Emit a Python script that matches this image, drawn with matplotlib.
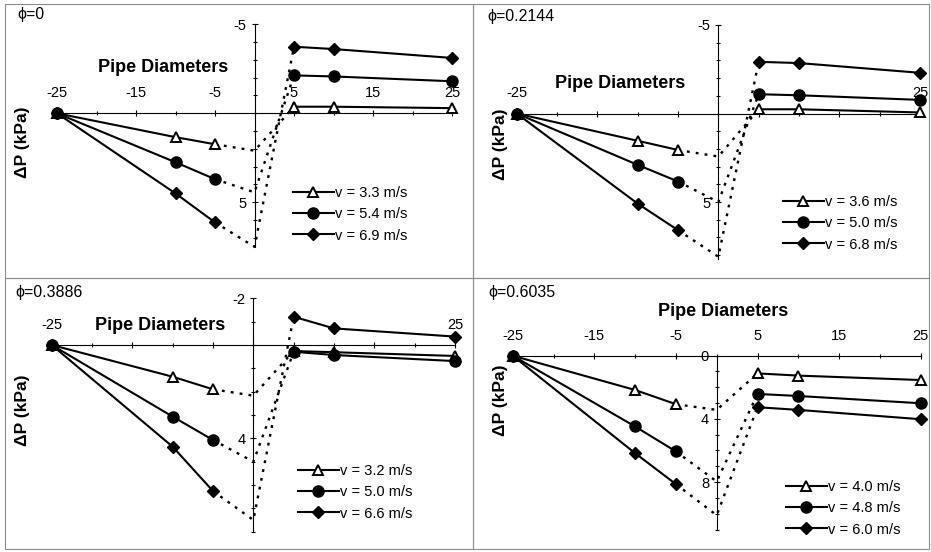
import matplotlib
matplotlib.use("Agg")
import matplotlib.pyplot as plt
from matplotlib.lines import Line2D
from matplotlib.patches import Rectangle
from matplotlib.ticker import MultipleLocator

plt.rcParams['font.family'] = ['Liberation Sans', 'DejaVu Sans']
plt.rcParams['axes.unicode_minus'] = False

# distancias en diametros de tubo
X = [-25, -10, -5, 0, 5, 10, 25]

PHI = ["0", "0.2144", "0.3886", "0.6035"]

VEL_1 = ["v = 3.3 m/s", "v = 5.4 m/s", "v = 6.9 m/s"]
VEL_2 = ["v = 3.6 m/s", "v = 5.0 m/s", "v = 6.8 m/s"]
VEL_3 = ["v = 3.2 m/s", "v = 5.0 m/s", "v = 6.6 m/s"]
VEL_4 = ["v = 4.0 m/s", "v = 4.8 m/s", "v = 6.0 m/s"]

# caida de presion (kPa), una lista por velocidad
DP_1 = [[0, 1.34, 1.74, 2.10, -0.37, -0.37, -0.29],
        [0, 2.75, 3.70, 4.44, -2.13, -2.07, -1.80],
        [0, 4.50, 6.13, 7.50, -3.74, -3.61, -3.11]]
DP_2 = [[0, 1.54, 2.06, 2.43, -0.24, -0.24, -0.06],
        [0, 2.90, 3.84, 5.00, -1.09, -1.03, -0.77],
        [0, 5.09, 6.59, 8.09, -2.92, -2.85, -2.30]]
DP_3 = [[0, 1.36, 1.90, 2.17, 0.26, 0.31, 0.47],
        [0, 3.07, 4.07, 5.00, 0.29, 0.43, 0.69],
        [0, 4.36, 6.26, 7.50, -1.21, -0.71, -0.36]]
DP_4 = [[0, 2.17, 3.07, 3.43, 1.12, 1.26, 1.54],
        [0, 4.48, 6.06, 7.96, 2.42, 2.55, 3.01],
        [0, 6.17, 8.13, 10.10, 3.26, 3.43, 4.02]]

XTICKS = [-25, -15, -5, 5, 15, 25]
XLABELS_ALL = ["-25", "-15", "-5", "5", "15", "25"]
XLABELS_ENDS = ["-25", "", "", "", "", "25"]

W, H = 931, 552
fig = plt.figure(figsize=(W / 100, H / 100), dpi=100)

MARKERS = [dict(marker="^", mfc="white", mec="black", ms=7.5, mew=1.4),
           dict(marker="o", mfc="black", mec="black", ms=8),
           dict(marker="D", mfc="black", mec="black", ms=6.5)]

# (izq, der, arriba, abajo) en pixeles, ylim, yticks, etiquetas x, leyenda, textos
PANELES = [
    dict(box=(57, 452, 24.3, 246.8), ylim=(7.5, -5), yt=[-5, 5], xl=XLABELS_ALL,
         dp=DP_1, vel=VEL_1, phi=PHI[0], phi_xy=(17, 15), pd_xy=(163, 68),
         dpl_xy=(23, 142), leg_xy=(293, 186)),
    dict(box=(516.7, 920, 25, 258.7), ylim=(8.2, -5), yt=[-5, 5], xl=XLABELS_ENDS,
         dp=DP_2, vel=VEL_2, phi=PHI[1], phi_xy=(487, 17), pd_xy=(620, 83),
         dpl_xy=(500, 144), leg_xy=(783, 195)),
    dict(box=(51.7, 455, 298.3, 531.7), ylim=(8, -2), yt=[-2, 4], xl=XLABELS_ENDS,
         dp=DP_3, vel=VEL_3, phi=PHI[2], phi_xy=(15, 292), pd_xy=(160, 325),
         dpl_xy=(23, 410), leg_xy=(298, 464)),
    dict(box=(512.7, 920.7, 355.7, 529.5), ylim=(11, 0), yt=[0, 4, 8], xl=XLABELS_ALL,
         dp=DP_4, vel=VEL_4, phi=PHI[3], phi_xy=(488, 293), pd_xy=(723, 312),
         dpl_xy=(500, 400), leg_xy=(786, 480)),
]

for p in PANELES:
    l, r, t, b = p["box"]
    ax = fig.add_axes([l / W, 1 - b / H, (r - l) / W, (b - t) / H])
    ax.patch.set_alpha(0)
    ax.set_xlim(-25, 25)
    ax.set_ylim(*p["ylim"])

    for s in ["right", "bottom"]:
        ax.spines[s].set_visible(False)
    ax.spines["top"].set_position(("data", 0))
    ax.spines["left"].set_position(("data", 0))
    ax.spines["top"].set_linewidth(0.8)
    ax.spines["left"].set_linewidth(0.8)

    ax.xaxis.set_ticks_position("top")
    ax.set_xticks(XTICKS)
    ax.set_xticklabels(p["xl"])
    ax.xaxis.set_minor_locator(MultipleLocator(5))
    ax.yaxis.set_ticks_position("left")
    ax.set_yticks(p["yt"])
    ax.yaxis.set_minor_locator(MultipleLocator(1))
    ax.tick_params(which="both", direction="inout", width=0.8, labelsize=10.5)
    ax.tick_params(which="major", length=5)
    ax.tick_params(which="minor", length=3)
    ax.tick_params(axis="x", pad=7)
    ax.tick_params(axis="y", pad=3)

    handles = []
    for vals, mk in zip(p["dp"], MARKERS):
        ax.plot(X[2:5], vals[2:5], color="black", lw=1.7, ls=(0, (1.2, 2.6)),
                clip_on=False, zorder=2)
        ax.plot(X[:3], vals[:3], color="black", lw=1.5, clip_on=False, zorder=3, **mk)
        ax.plot(X[4:], vals[4:], color="black", lw=1.5, clip_on=False, zorder=3, **mk)
        handles.append(Line2D([], [], color="black", lw=1.5, **mk))

    ax.legend(handles, p["vel"], loc="upper left",
              bbox_to_anchor=(p["leg_xy"][0] / W, 1 - p["leg_xy"][1] / H),
              bbox_transform=fig.transFigure, frameon=False, borderpad=0,
              borderaxespad=0, handlelength=2.8, handletextpad=0.1,
              labelspacing=0.5, fontsize=10.5)

    fig.text(p["phi_xy"][0] / W, 1 - p["phi_xy"][1] / H, "\u03d5=" + p["phi"],
             ha="left", va="center", fontsize=11.5)
    fig.text(p["pd_xy"][0] / W, 1 - p["pd_xy"][1] / H, "Pipe Diameters",
             ha="center", va="center", fontsize=13, weight="bold")
    fig.text(p["dpl_xy"][0] / W, 1 - p["dpl_xy"][1] / H, "\u0394P (kPa)",
             ha="center", va="center", fontsize=12.5, weight="bold", rotation=90)

# marcos de los paneles
for (x0, y0, x1, y1) in [(5, 4, 473, 278), (473, 4, 929, 278),
                         (5, 278, 473, 549), (473, 278, 929, 549)]:
    fig.add_artist(Rectangle((x0 / W, 1 - y1 / H), (x1 - x0) / W, (y1 - y0) / H,
                             transform=fig.transFigure, fill=False,
                             edgecolor="#8c8c8c", lw=0.8))

fig.savefig("out.png", dpi=100)
